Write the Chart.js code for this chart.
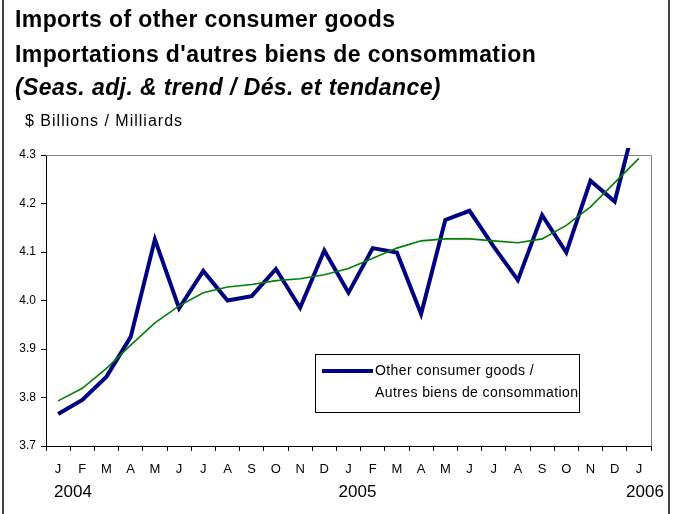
<!DOCTYPE html>
<html><head><meta charset="utf-8">
<script src="https://cdn.jsdelivr.net/npm/chart.js@4"></script>
<style>html,body{margin:0;padding:0;background:#fff;}canvas{display:block;}</style>
</head><body>
<canvas id="c" width="673" height="514"></canvas>
<script>
const titleLines = ['Imports of other consumer goods', "Importations d'autres biens de consommation"];
const subtitleText = '(Seas. adj. & trend / Dés. et tendance)';
const unitLabel = '$ Billions / Milliards';
const monthLabels = ['J','F','M','A','M','J','J','A','S','O','N','D','J','F','M','A','M','J','J','A','S','O','N','D','J'];
const yearLabels = ['2004','','','','','','','','','','','','2005','','','','','','','','','','','','2006'];
const yTicks = [3.7, 3.8, 3.9, 4.0, 4.1, 4.2, 4.3];
const seasAdj = [3.766, 3.795, 3.843, 3.925, 4.126, 3.984, 4.061, 4.000, 4.009, 4.065, 3.985, 4.103,
                 4.016, 4.108, 4.099, 3.972, 4.166, 4.185, 4.111, 4.042, 4.176, 4.099, 4.247, 4.204, 4.400];
const trend = [3.793, 3.819, 3.860, 3.908, 3.954, 3.989, 4.016, 4.028, 4.033, 4.041, 4.045, 4.053,
               4.066, 4.087, 4.108, 4.123, 4.127, 4.127, 4.123, 4.119, 4.127, 4.155, 4.193, 4.243, 4.293];
const seasAdjLabel = ['Other consumer goods /', 'Autres biens de consommation'];
const trendLabel = 'Trend / Tendance';

const FONT = 'Arial, "Liberation Sans", sans-serif';
function spacing(ctx, v) { try { ctx.letterSpacing = v; } catch (e) {} }

const decor = {
  id: 'decor',
  beforeDraw(chart) {
    const ctx = chart.ctx;
    ctx.save();
    ctx.fillStyle = '#fff';
    ctx.fillRect(0, 0, chart.width, chart.height);
    ctx.strokeStyle = '#000';
    ctx.lineWidth = 1.5;
    ctx.beginPath();
    ctx.moveTo(3, 0); ctx.lineTo(3, chart.height);
    ctx.moveTo(669, 0); ctx.lineTo(669, chart.height);
    ctx.stroke();
    ctx.fillStyle = '#000';
    ctx.textAlign = 'left';
    ctx.textBaseline = 'alphabetic';
    spacing(ctx, '0.4px');
    ctx.font = 'bold 23px ' + FONT;
    ctx.fillText(titleLines[0], 15, 27);
    ctx.fillText(titleLines[1], 15, 62);
    ctx.font = 'italic bold 23px ' + FONT;
    ctx.fillText(subtitleText, 15, 95);
    ctx.font = '16px ' + FONT;
    spacing(ctx, '1px');
    ctx.fillText(unitLabel, 25, 126);
    spacing(ctx, '0px');
    ctx.restore();
  },
  beforeDatasetsDraw(chart) {
    const ctx = chart.ctx, a = chart.chartArea;
    ctx.save();
    ctx.strokeStyle = '#808080';
    ctx.lineWidth = 1;
    ctx.beginPath();
    ctx.moveTo(a.left, a.top + 0.5); ctx.lineTo(a.right + 0.5, a.top + 0.5); ctx.lineTo(a.right + 0.5, a.bottom);
    ctx.stroke();
    ctx.restore();
  },
  afterDraw(chart) {
    const ctx = chart.ctx;
    const xs = chart.scales.x;
    ctx.save();
    // years
    ctx.fillStyle = '#000';
    ctx.font = '17px ' + FONT;
    ctx.textBaseline = 'alphabetic';
    const last = yearLabels.length - 1;
    yearLabels.forEach((y, i) => {
      if (!y) return;
      const px = xs.getPixelForValue(i);
      if (i === 0) { ctx.textAlign = 'left'; ctx.fillText(y, px - 4, 497); }
      else if (i === last) { ctx.textAlign = 'right'; ctx.fillText(y, px + 25, 497); }
      else { ctx.textAlign = 'center'; ctx.fillText(y, px + 9, 497); }
    });
    // legend (seasonally adjusted series only)
    const ds = chart.data.datasets.find(d => d.showInLegend);
    const bx = 315, by = 354, bw = 264, bh = 58;
    ctx.fillStyle = '#fff';
    ctx.fillRect(bx, by, bw, bh);
    ctx.strokeStyle = '#000';
    ctx.lineWidth = 1;
    ctx.strokeRect(bx + 0.5, by + 0.5, bw, bh);
    ctx.strokeStyle = ds.borderColor;
    ctx.lineWidth = ds.borderWidth;
    ctx.beginPath();
    ctx.moveTo(322, 371); ctx.lineTo(373, 371);
    ctx.stroke();
    ctx.fillStyle = '#000';
    ctx.font = '14px ' + FONT;
    ctx.textAlign = 'left';
    ctx.textBaseline = 'middle';
    spacing(ctx, '0.4px');
    ds.label.forEach((t, i) => ctx.fillText(t, 375, 371 + i * 22.5));
    spacing(ctx, '0px');
    ctx.restore();
  }
};

new Chart(document.getElementById('c'), {
  type: 'line',
  data: {
    labels: monthLabels,
    datasets: [
      { label: trendLabel, data: trend, borderColor: '#008000', borderWidth: 1.6,
        pointRadius: 0, tension: 0, fill: false, order: 0 },
      { label: seasAdjLabel, data: seasAdj, borderColor: '#000080', borderWidth: 4,
        pointRadius: 0, tension: 0, fill: false, order: 1, showInLegend: true,
        borderJoinStyle: 'miter', clip: { left: 10, top: 7, right: 10, bottom: 10 } }
    ]
  },
  options: {
    responsive: false,
    animation: false,
    devicePixelRatio: 1,
    events: [],
    layout: { padding: { top: 155, right: 22, bottom: 0, left: 0 } },
    plugins: { legend: { display: false }, tooltip: { enabled: false }, title: { display: false } },
    scales: {
      x: {
        offset: true,
        grid: { offset: true, drawOnChartArea: false, drawTicks: true, tickLength: 5, color: '#000' },
        border: { display: true, color: '#000', width: 1 },
        ticks: { autoSkip: false, maxRotation: 0, minRotation: 0, color: '#000',
                 font: { family: FONT, size: 13 }, padding: 11 },
        afterFit(s) { s.height = 68; }
      },
      y: {
        min: 3.7, max: 4.3,
        afterBuildTicks(s) { s.ticks = yTicks.map(v => ({ value: v })); },
        grid: { drawOnChartArea: false, drawTicks: true, tickLength: 5, color: '#000' },
        border: { display: true, color: '#000', width: 1 },
        ticks: { color: '#000', font: { family: FONT, size: 12 }, padding: 5,
                 callback: v => Number(v).toFixed(1) },
        afterFit(s) { s.width = 46; }
      }
    }
  },
  plugins: [decor]
});
</script>
</body></html>
